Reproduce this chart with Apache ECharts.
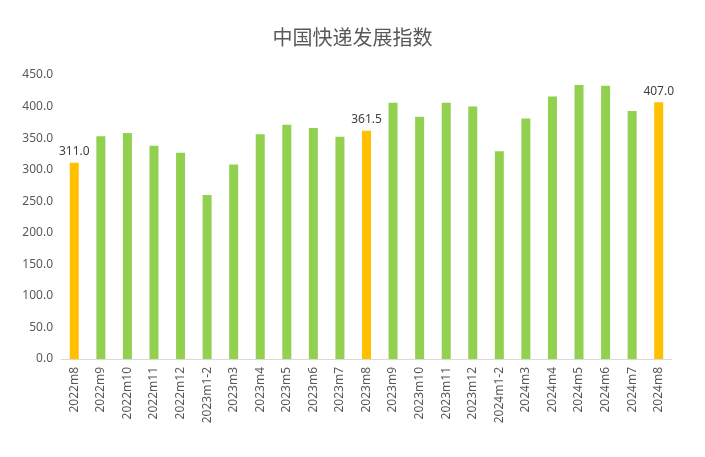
<!DOCTYPE html>
<html><head><meta charset="utf-8">
<script src="https://cdn.jsdelivr.net/npm/echarts@6/dist/echarts.min.js"></script>
<style>html,body{margin:0;background:#fff}#c{width:705px;height:457px}</style>
</head><body><div id="c"></div>
<script>
const months = ['2022m8','2022m9','2022m10','2022m11','2022m12','2023m1-2','2023m3','2023m4','2023m5','2023m6','2023m7','2023m8','2023m9','2023m10','2023m11','2023m12','2024m1-2','2024m3','2024m4','2024m5','2024m6','2024m7','2024m8'];
const values = [311.0,353,358,338,327,260,308,356,371,366,352,361.5,406,384,406,400,329,381,416,434,433,393,407.0];
const highlight = ['2022m8','2023m8','2024m8'];

const chart = echarts.init(document.getElementById('c'));
chart.setOption({
  animation: false,
  title: { text: '中国快递发展指数', left: 'center', top: 22,
    textStyle: { fontFamily: 'Noto Sans CJK SC', fontSize: 20, fontWeight: 'normal', color: '#595959' } },
  grid: { left: 61, right: 33, top: 75, bottom: 98 },
  xAxis: {
    type: 'category', data: months,
    axisLine: { lineStyle: { color: '#d9d9d9' } },
    axisTick: { show: false },
    axisLabel: { rotate: 90, interval: 0, color: '#595959', fontSize: 12, fontFamily: 'Noto Sans' }
  },
  yAxis: {
    type: 'value', min: 0, max: 450, interval: 50,
    axisLabel: { formatter: v => v.toFixed(1), color: '#595959', fontSize: 12, fontFamily: 'Noto Sans' },
    splitLine: { show: false }, axisLine: { show: false }, axisTick: { show: false }
  },
  series: [{
    type: 'bar', barWidth: 9,
    data: values.map((v, i) => {
      const hl = highlight.includes(months[i]);
      return {
        value: v,
        itemStyle: { color: hl ? '#FFC000' : '#92D050' },
        label: hl ? { show: true, position: 'top', formatter: p => p.value.toFixed(1),
          color: '#404040', fontSize: 12, fontFamily: 'Noto Sans' } : { show: false }
      };
    })
  }]
});
</script></body></html>
